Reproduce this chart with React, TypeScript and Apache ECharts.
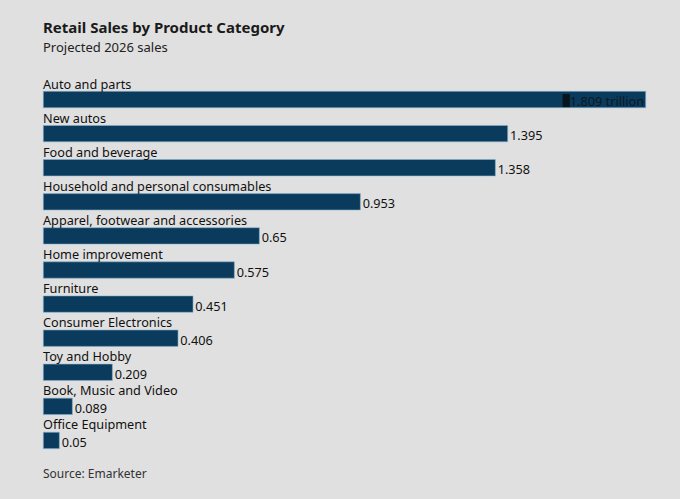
import React, { useEffect, useRef } from "react";
import * as echarts from "echarts";

const categories = [
  "Auto and parts",
  "New autos",
  "Food and beverage",
  "Household and personal consumables",
  "Apparel, footwear and accessories",
  "Home improvement",
  "Furniture",
  "Consumer Electronics",
  "Toy and Hobby",
  "Book, Music and Video",
  "Office Equipment",
];
const values = [1.809, 1.395, 1.358, 0.953, 0.65, 0.575, 0.451, 0.406, 0.209, 0.089, 0.05];
const valueLabels = ["$1.809 trillion", "1.395", "1.358", "0.953", "0.65", "0.575", "0.451", "0.406", "0.209", "0.089", "0.05"];

const FONT = "Noto Sans";
const BAR = "#0b3b5c";
const FS = 12.7;

export default function App() {
  const ref = useRef<HTMLDivElement>(null);
  useEffect(() => {
    const chart = echarts.init(ref.current!, null, { renderer: "svg" });
    chart.setOption({
      animation: false,
      backgroundColor: "#e0e0e0",
      textStyle: { fontFamily: FONT },
      title: [
        {
          text: "Retail Sales by Product Category",
          left: 38,
          top: 14,
          textStyle: { fontFamily: FONT, fontSize: 15, fontWeight: "bold", color: "#1a1a1a" },
        },
        {
          text: "Projected 2026 sales",
          left: 38,
          top: 35,
          textStyle: { fontFamily: FONT, fontSize: 13, fontWeight: "normal", color: "#222" },
        },
        {
          text: "Source: Emarketer",
          left: 38,
          top: 462,
          textStyle: { fontFamily: FONT, fontSize: 12, fontWeight: "normal", color: "#333" },
        },
      ],
      grid: { left: 43, top: 82.5, width: 603, height: 375, containLabel: false },
      xAxis: { type: "value", min: 0, max: 1.809, show: false },
      yAxis: {
        type: "category",
        data: categories,
        inverse: true,
        show: false,
      },
      series: [
        {
          type: "bar",
          data: values.map((v, i) => ({
            value: v,
            label:
              i === 0
                ? {
                    position: "insideRight",
                    distance: 2,
                    offset: [0, 1],
                    color: "#0a1824",
                    formatter: "{d|$}{n|1.809 trillion}",
                    rich: {
                      d: { backgroundColor: "#08141d", color: "#08141d", fontSize: FS, fontFamily: FONT, lineHeight: 12 },
                      n: { color: "#0a1824", fontSize: FS, fontFamily: FONT, lineHeight: 12 },
                    },
                  }
                : undefined,
          })),
          barWidth: 17,
          barGap: "-100%",
          itemStyle: { color: BAR, borderColor: "#8ab4d0", borderWidth: 0.6 },
          label: {
            show: true,
            position: "right",
            distance: 2,
            offset: [0, 1.5],
            fontSize: FS,
            lineHeight: 12,
            fontFamily: FONT,
            color: "#111",
            formatter: (p: any) => valueLabels[p.dataIndex],
          },
          silent: true,
          z: 2,
        },
        {
          type: "bar",
          data: values,
          barWidth: 17,
          barGap: "-100%",
          itemStyle: { color: "rgba(0,0,0,0)" },
          label: {
            show: true,
            position: [0, -1.5],
            align: "left",
            verticalAlign: "bottom",
            fontSize: FS,
            lineHeight: 12,
            fontFamily: FONT,
            color: "#111",
            formatter: (p: any) => categories[p.dataIndex],
          },
          silent: true,
          z: 3,
        },
      ],
    });
    return () => chart.dispose();
  }, []);
  return <div ref={ref} style={{ position: "fixed", left: 0, top: 0, width: 680, height: 499 }} />;
}
